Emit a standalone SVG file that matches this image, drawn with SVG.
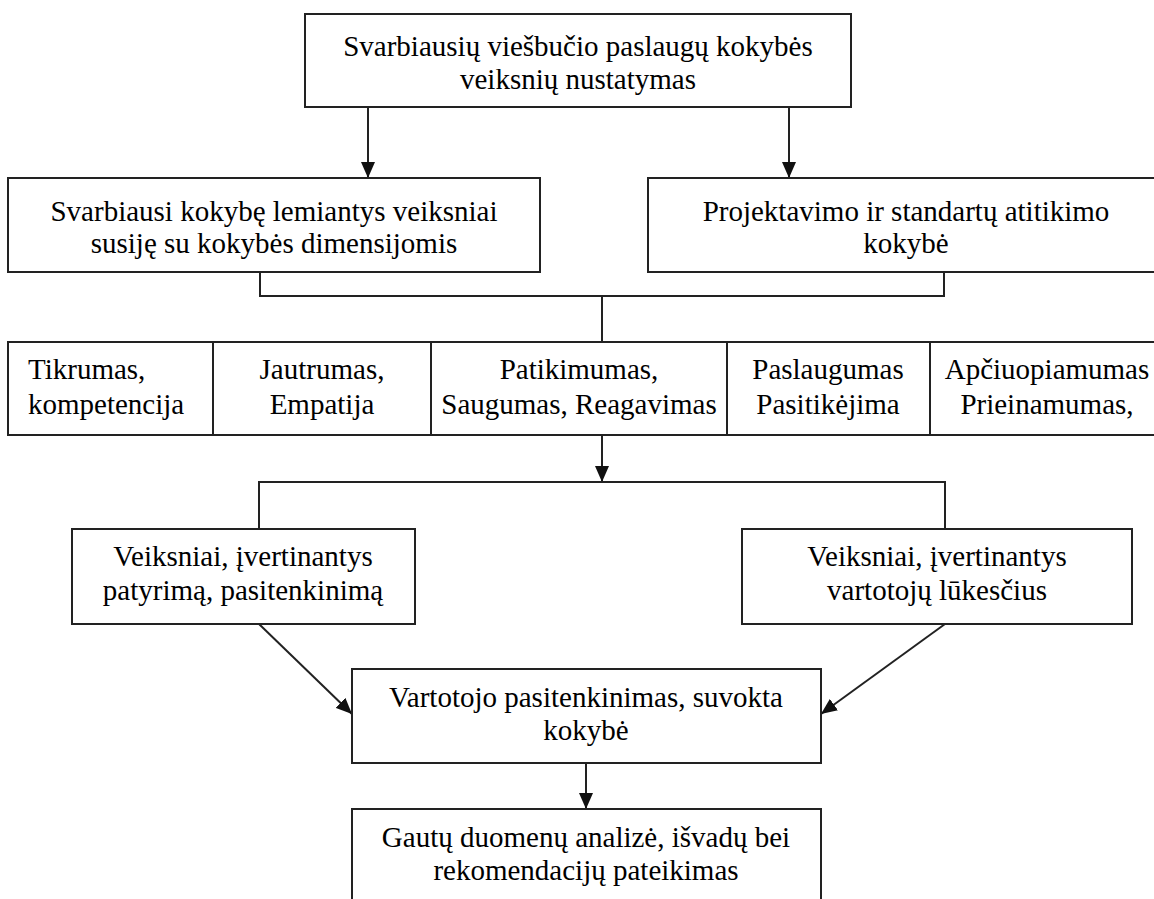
<svg xmlns="http://www.w3.org/2000/svg" width="1154" height="899" viewBox="0 0 1154 899">
<style>
.box{fill:#fff;stroke:#222;stroke-width:2}
.t{font-family:"Liberation Serif","Times New Roman",serif;font-size:29px;fill:#000;text-anchor:middle}
.l{text-anchor:start}
.c{fill:none;stroke:#222;stroke-width:2}
</style>
<defs>
<marker id="ah" markerWidth="16" markerHeight="14" viewBox="0 0 16 14" refX="16" refY="7" orient="auto" markerUnits="userSpaceOnUse">
<path d="M0,0 L16,7 L0,14 Z" fill="#111"/>
</marker>
</defs>
<rect width="1154" height="899" fill="#fff"/>
<g id="connectors">
<line class="c" x1="368" y1="107" x2="368" y2="178" marker-end="url(#ah)"/>
<line class="c" x1="789" y1="107" x2="789" y2="178" marker-end="url(#ah)"/>
<polyline class="c" points="260,272 260,296 944,296 944,272"/>
<line class="c" x1="602" y1="296" x2="602" y2="342"/>
<line class="c" x1="602" y1="435" x2="602" y2="482" marker-end="url(#ah)"/>
<polyline class="c" points="259,529 259,482 945,482 945,529"/>
<line class="c" x1="259" y1="624" x2="352" y2="714" marker-end="url(#ah)"/>
<line class="c" x1="945" y1="624" x2="821" y2="714" marker-end="url(#ah)"/>
<line class="c" x1="586" y1="763" x2="586" y2="809" marker-end="url(#ah)"/>
</g>
<g id="n_top">
<rect class="box" x="305" y="14" width="546" height="93"/>
<text class="t" x="578" y="56">Svarbiausių viešbučio paslaugų kokybės</text>
<text class="t" x="578" y="89">veiksnių nustatymas</text>
</g>
<g id="n_dims">
<rect class="box" x="8" y="178" width="532" height="94"/>
<text class="t" x="274" y="221">Svarbiausi kokybę lemiantys veiksniai</text>
<text class="t" x="274" y="253">susiję su kokybės dimensijomis</text>
</g>
<g id="n_proj">
<rect class="box" x="648" y="178" width="516" height="94"/>
<text class="t" x="906" y="221">Projektavimo ir standartų atitikimo</text>
<text class="t" x="906" y="253">kokybė</text>
</g>
<g id="n_tikr">
<rect class="box" x="8" y="342" width="205" height="93"/>
<text class="t l" x="28" y="379">Tikrumas,</text>
<text class="t l" x="28" y="414">kompetencija</text>
</g>
<g id="n_jaut">
<rect class="box" x="213" y="342" width="218" height="93"/>
<text class="t" x="322" y="379">Jautrumas,</text>
<text class="t" x="322" y="414">Empatija</text>
</g>
<g id="n_patik">
<rect class="box" x="431" y="342" width="296" height="93"/>
<text class="t" x="579" y="379">Patikimumas,</text>
<text class="t" x="579" y="414">Saugumas, Reagavimas</text>
</g>
<g id="n_pasl">
<rect class="box" x="727" y="342" width="203" height="93"/>
<text class="t" x="828" y="379">Paslaugumas</text>
<text class="t" x="828" y="414">Pasitikėjima</text>
</g>
<g id="n_apc">
<rect class="box" x="930" y="342" width="240" height="93"/>
<text class="t" x="1047" y="379">Apčiuopiamumas</text>
<text class="t" x="1047" y="414">Prieinamumas,</text>
</g>
<g id="n_patyr">
<rect class="box" x="72" y="529" width="343" height="95"/>
<text class="t" x="243" y="566">Veiksniai, įvertinantys</text>
<text class="t" x="243" y="600">patyrimą, pasitenkinimą</text>
</g>
<g id="n_luk">
<rect class="box" x="742" y="529" width="390" height="95"/>
<text class="t" x="937" y="566">Veiksniai, įvertinantys</text>
<text class="t" x="937" y="600">vartotojų lūkesčius</text>
</g>
<g id="n_vart">
<rect class="box" x="352" y="669" width="469" height="94"/>
<text class="t" x="586" y="707">Vartotojo pasitenkinimas, suvokta</text>
<text class="t" x="586" y="740">kokybė</text>
</g>
<g id="n_gaut">
<rect class="box" x="352" y="809" width="469" height="110"/>
<text class="t" x="586" y="847">Gautų duomenų analizė, išvadų bei</text>
<text class="t" x="586" y="880">rekomendacijų pateikimas</text>
</g>
</svg>
